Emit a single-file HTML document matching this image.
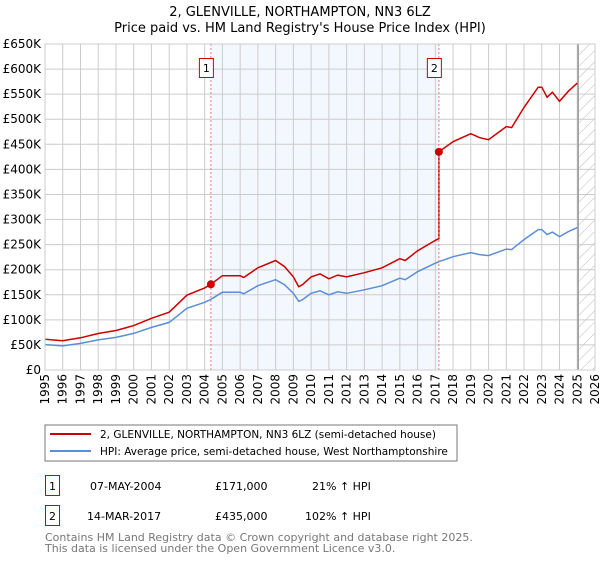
<!DOCTYPE html>
<html><head><meta charset="utf-8"><style>
body{margin:0;background:#fff;font-family:"DejaVu Sans","Liberation Sans",sans-serif;}
svg text{font-family:"DejaVu Sans","Liberation Sans",sans-serif;}
</style></head><body>
<svg id="c" width="600" height="560" xmlns="http://www.w3.org/2000/svg">
<defs><pattern id="hatch" width="8" height="8" patternUnits="userSpaceOnUse" patternTransform="rotate(45)"><line x1="0" y1="0" x2="0" y2="8" stroke="#bbb" stroke-width="1"/></pattern></defs>
<text x="300" y="16" text-anchor="middle" font-size="13" fill="#000">2, GLENVILLE, NORTHAMPTON, NN3 6LZ</text>
<text x="300" y="32" text-anchor="middle" font-size="13" fill="#000">Price paid vs. HM Land Registry's House Price Index (HPI)</text>
<g id="plot"></g>
<rect x="45" y="425" width="412" height="36" fill="#fff" stroke="#777"/>
<line x1="50" y1="434" x2="91" y2="434" stroke="#cc0000" stroke-width="2"/>
<text x="100" y="438" font-size="10.5">2, GLENVILLE, NORTHAMPTON, NN3 6LZ (semi-detached house)</text>
<line x1="50" y1="451" x2="91" y2="451" stroke="#5b8ed6" stroke-width="2"/>
<text x="100" y="455" font-size="10.5">HPI: Average price, semi-detached house, West Northamptonshire</text>
<g font-size="11">
<rect x="45.5" y="475.5" width="14" height="20" fill="#fff" stroke="#cc0000"/>
<text x="52.5" y="490" text-anchor="middle">1</text>
<text x="90" y="490">07-MAY-2004</text><text x="215" y="490">£171,000</text><text x="312" y="490">21% ↑ HPI</text>
</g>
<g font-size="11">
<rect x="45.5" y="505.5" width="14" height="20" fill="#fff" stroke="#cc0000"/>
<text x="52.5" y="520" text-anchor="middle">2</text>
<text x="87" y="520">14-MAR-2017</text><text x="215" y="520">£435,000</text><text x="305" y="520">102% ↑ HPI</text>
</g>
<text x="45" y="541" font-size="11" fill="#777">Contains HM Land Registry data © Crown copyright and database right 2025.</text>
<text x="45" y="552" font-size="11" fill="#777">This data is licensed under the Open Government Licence v3.0.</text>
</svg>
<script>
const hpiYears=[1995,1996,1997,1998,1999,2000,2001,2002,2003,2004,2004.35,2005,2006,2006.2,2007,2008,2008.5,2009,2009.3,2009.5,2010,2010.5,2011,2011.5,2012,2013,2014,2015,2015.3,2016,2017,2017.2,2018,2019,2019.5,2020,2021,2021.3,2022,2022.8,2023,2023.3,2023.6,2024,2024.5,2025];
const hpiValues=[50.6,48,53,60,65,73,85,95,123,135,141,155,155,152,168,180,170,153,137,140,153,158,150,156,153,160,168,183,180,196,213,216,226,234,230,228,241,240,260,280,280,270,275,266,276,284];
const saleYears=[2004.35,2017.2];
const salePrices=[171,435];
const saleLabels=["1","2"];
const yTicks=[0,50,100,150,200,250,300,350,400,450,500,550,600,650];
const xTicks=[1995,1996,1997,1998,1999,2000,2001,2002,2003,2004,2005,2006,2007,2008,2009,2010,2011,2012,2013,2014,2015,2016,2017,2018,2019,2020,2021,2022,2023,2024,2025,2026];
const dataEnd=2025.05;
const L=45,R=595,T=44,B=370;
const X=y=>L+(y-1995)*(R-L)/31;
const Y=v=>B-v*(B-T)/650;
const NS="http://www.w3.org/2000/svg";
const g=document.getElementById('plot');
function mk(t,a){const e=document.createElementNS(NS,t);for(const k in a)e.setAttribute(k,a[k]);g.appendChild(e);return e;}
function hpiAt(y){for(let i=0;i<hpiYears.length-1;i++){if(y>=hpiYears[i]&&y<=hpiYears[i+1]){const f=(y-hpiYears[i])/(hpiYears[i+1]-hpiYears[i]);return hpiValues[i]+f*(hpiValues[i+1]-hpiValues[i]);}}return hpiValues[hpiValues.length-1];}
let e=mk('rect',{x:L,y:T,width:R-L,height:B-T,fill:'#fff'});


e=mk('rect',{x:X(saleYears[0]),y:T,width:X(saleYears[1])-X(saleYears[0]),height:B-T,fill:'#eef3fd',opacity:0.7});


e=mk('rect',{x:X(dataEnd),y:T,width:R-X(dataEnd),height:B-T,fill:'url(#hatch)'});


yTicks.forEach(v=>{
 const l=mk('line',{x1:L,x2:R,y1:Y(v),y2:Y(v),stroke:'#ccc'});
 
 
 const t=mk('text',{x:L-4,y:Y(v)+4,'text-anchor':'end','font-size':12});
 t.textContent=v===0?'£0':'£'+v+'K';
 
 
});
xTicks.forEach(v=>{
 const l=mk('line',{x1:X(v),x2:X(v),y1:T,y2:B,stroke:'#ccc'});
 
 
 const t=mk('text',{x:0,y:0,'text-anchor':'end','font-size':12,transform:`translate(${X(v)+4},${B+4}) rotate(-90)`});
 t.textContent=v;
 
 
});
e=mk('line',{x1:X(dataEnd),x2:X(dataEnd),y1:T,y2:B,stroke:'#999','stroke-width':1.5});


let d=hpiYears.map((y,i)=>(i?'L':'M')+X(y).toFixed(1)+','+Y(hpiValues[i]).toFixed(1)).join(' ');
e=mk('path',{d:d,fill:'none',stroke:'#5b8ed6','stroke-width':1.5});


const r1=salePrices[0]/hpiAt(saleYears[0]),r2=salePrices[1]/hpiAt(saleYears[1]);
let pts=[];
hpiYears.forEach((y,i)=>{ if(y<saleYears[1]) pts.push([y,hpiValues[i]*r1]); });
pts.push([saleYears[1],hpiAt(saleYears[1])*r1]);
pts.push([saleYears[1],salePrices[1]]);
hpiYears.forEach((y,i)=>{ if(y>saleYears[1]) pts.push([y,hpiValues[i]*r2]); });
d=pts.map((p,i)=>(i?'L':'M')+X(p[0]).toFixed(1)+','+Y(p[1]).toFixed(1)).join(' ');
e=mk('path',{d:d,fill:'none',stroke:'#cc0000','stroke-width':1.5});


saleYears.forEach((y,i)=>{
 const l=mk('line',{x1:X(y),x2:X(y),y1:T,y2:B,stroke:'#e77','stroke-dasharray':'2,2'});
 
 
 const c=mk('circle',{cx:X(y),cy:Y(salePrices[i]),r:4,fill:'#cc0000'});
 
 
 const b=mk('rect',{x:X(y)-11.5,y:58.5,width:14,height:19,fill:'#fff',stroke:'#cc0000'});
 
 
 const t=mk('text',{x:X(y)-4.5,y:72,'text-anchor':'middle','font-size':11});
 t.textContent=saleLabels[i];
 
 
});
e=mk('rect',{x:L,y:T,width:R-L,height:B-T,fill:'none',stroke:'#ccc'});


</script>
</body></html>
